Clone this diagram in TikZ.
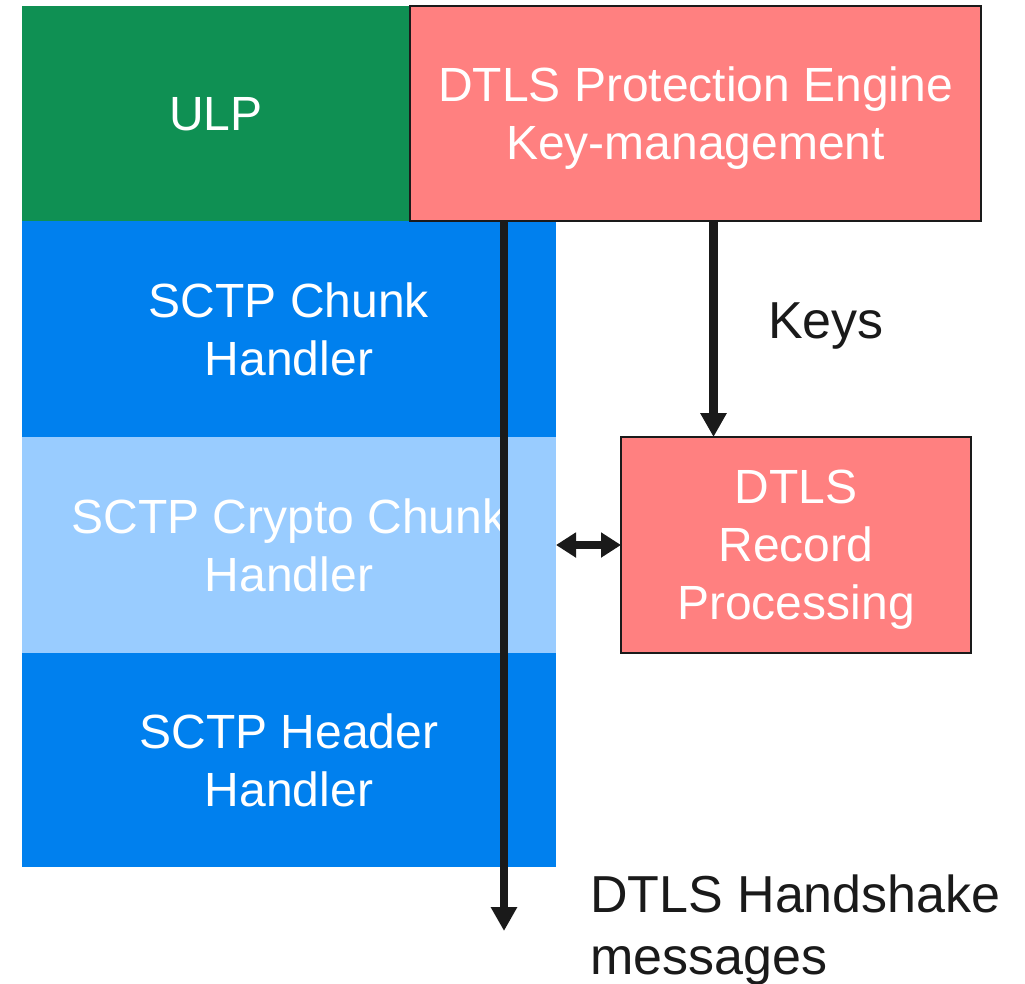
\documentclass[tikz,border=0pt]{standalone}
\usepackage{fontspec}
\setmainfont{Liberation Sans}
\usetikzlibrary{arrows.meta}
\definecolor{ulpgreen}{HTML}{0F9053}
\definecolor{sctpblue}{HTML}{0080EE}
\definecolor{cryptoblue}{HTML}{99CCFF}
\definecolor{dtlspink}{HTML}{FF8080}
\definecolor{blackmain}{HTML}{1A1A1A}
\tikzset{
  layer/.style={anchor=north west,inner sep=0pt,outer sep=0pt,text=white,
    align=center,text depth=-6pt,font=\fontsize{48}{58}\selectfont},
  dtlsbox/.style={layer,fill=dtlspink,draw=blackmain,line width=2.5pt},
  flow/.style={blackmain,line width=8.5pt,-{Triangle[width=25pt,length=24pt]}},
  outlabel/.style={text=blackmain,inner sep=0pt,font=\fontsize{52}{62}\selectfont}
}

\begin{document}
\begin{tikzpicture}[x=1pt,y=-1pt]
  \useasboundingbox (0,0) rectangle (1025,983);
  % protocol stack on the left
  \node[layer,fill=ulpgreen,minimum width=388pt,minimum height=215pt] (ulp) at (22,6) {ULP};
  \node[layer,fill=sctpblue,minimum width=534pt,minimum height=216pt] (chunk) at (22,221)
    {SCTP Chunk\\Handler};
  \node[layer,fill=cryptoblue,minimum width=534pt,minimum height=216pt] (crypto) at (22,437)
    {SCTP Crypto Chunk\\Handler};
  \node[layer,fill=sctpblue,minimum width=534pt,minimum height=214pt] (header) at (22,653)
    {SCTP Header\\Handler};
  % DTLS parts
  \node[dtlsbox,minimum width=571pt,minimum height=215pt] (pe) at (410,6)
    {DTLS Protection Engine\\Key-management};
  \node[dtlsbox,minimum width=350pt,minimum height=216pt] (record) at (621,437)
    {DTLS\\Record\\Processing};
  % arrows
  \coordinate (hsend) at (504,931);
  \draw[flow] ([xshift=94pt]pe.south west) -- (hsend);
  \draw[flow] ([xshift=18pt]pe.south) -- ([xshift=18pt]pe.south |- record.north);
  \draw[blackmain,line width=8pt,{Triangle[width=24pt,length=20pt]}-{Triangle[width=24pt,length=20pt]}]
    (crypto.east) -- (record.west);
  \node[outlabel,anchor=base] (keys) at (826,338) {Keys};
  \node[outlabel,anchor=base west] (hsline) at (590,912) {DTLS Handshake};
  \node[outlabel,anchor=base west] (hsmsg) at (590,974) {messages};
\end{tikzpicture}
\end{document}
